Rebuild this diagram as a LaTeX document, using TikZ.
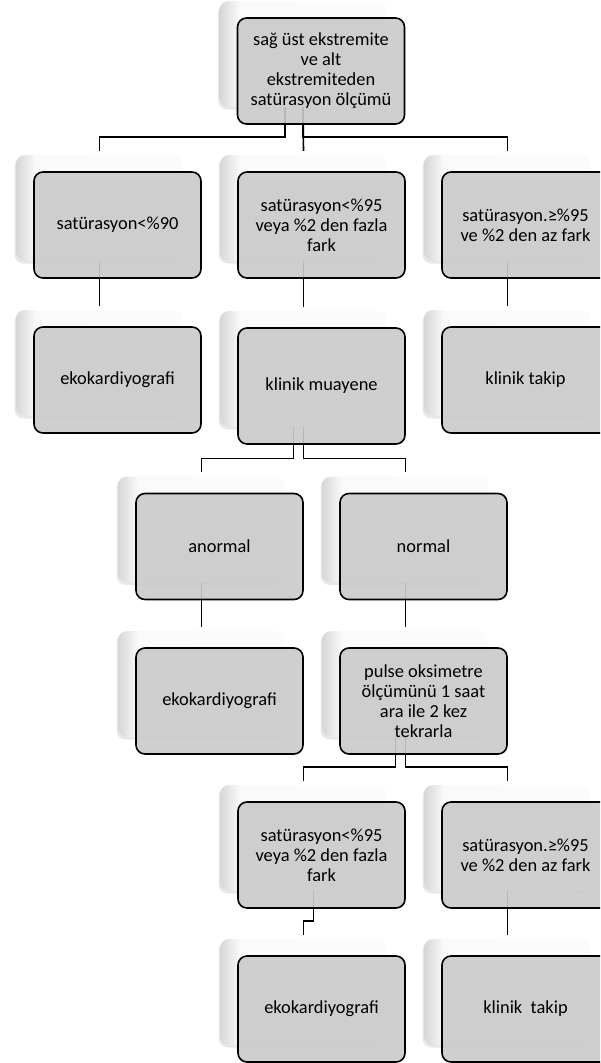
\documentclass[tikz,border=0pt]{standalone}
\usepackage{fontspec}
\setmainfont{Carlito}
\usetikzlibrary{shadows}

\definecolor{boxgray}{RGB}{202,202,202}
\pgfdeclarehorizontalshading{panelshade}{100bp}{color(0bp)=(gray!32); color(25bp)=(gray!32); color(31bp)=(gray!4); color(100bp)=(gray!2)}

\begin{document}
\begin{tikzpicture}[x=1pt, y=-1pt,
    panel/.style={rectangle, rounded corners=9pt, minimum width=167pt, minimum height=106pt,
        shading=panelshade, drop shadow={shadow xshift=-1.5pt, shadow yshift=-2.5pt, opacity=0.18}},
    stage/.style={rectangle, rounded corners=9pt, draw=black, line width=1.6pt, fill=boxgray,
        fill opacity=0.9, text opacity=1, minimum width=167pt, minimum height=106pt,
        inner sep=0pt, align=center, font=\fontsize{18.4}{20}\selectfont},
    link/.style={draw=black, line width=1.6pt}]

    % Page frame, the right column runs off the edge
    \useasboundingbox (0,0) rectangle (600,1063);
    \clip (0,0) rectangle (600,1063);

    % Back panels
    \node[panel] (b1) at (303,54) {};
    \node[panel] (b2) at (99.5,208) {};
    \node[panel] (b3) at (303.5,208) {};
    \node[panel] (b4) at (507.5,208) {};
    \node[panel] (b5) at (99.5,363) {};
    \node[panel, minimum height=116pt] (b6) at (303.5,369) {};
    \node[panel] (b7) at (507.5,363) {};
    \node[panel] (b8) at (201.5,529.5) {};
    \node[panel] (b9) at (405.5,529.5) {};
    \node[panel] (b10) at (201.5,684) {};
    \node[panel] (b11) at (405.5,684) {};
    \node[panel] (b12) at (303.5,838) {};
    \node[panel] (b13) at (507.5,838) {};
    \node[panel] (b14) at (303.5,992) {};
    \node[panel] (b15) at (507.5,992) {};

    % Connectors
    \draw[link] ([xshift=-18pt]b1.south) |- ([yshift=18pt]b2.north) -- ([yshift=4pt]b2.north);
    \draw[link] (b1.south) -- ([yshift=4pt]b3.north);
    \draw[link] (b1.south) |- ([yshift=18pt]b4.north) -- ([yshift=4pt]b4.north);
    \draw[link] (b2.south) -- ([yshift=4pt]b5.north);
    \draw[link] (b3.south) -- ([yshift=4pt]b6.north);
    \draw[link] (b4.south) -- ([yshift=4pt]b7.north);
    \draw[link] ([xshift=-10pt]b6.south) |- ([yshift=18pt]b8.north) -- ([yshift=4pt]b8.north);
    \draw[link] (b6.south) |- ([yshift=18pt]b9.north) -- ([yshift=4pt]b9.north);
    \draw[link] (b8.south) -- ([yshift=4pt]b10.north);
    \draw[link] (b9.south) -- ([yshift=4pt]b11.north);
    \draw[link] ([xshift=-10pt]b11.south) |- ([yshift=18pt]b12.north) -- ([yshift=4pt]b12.north);
    \draw[link] (b11.south) |- ([yshift=18pt]b13.north) -- ([yshift=4pt]b13.north);
    \draw[link] ([xshift=10pt]b12.south) |- ([yshift=18pt]b14.north) -- ([yshift=4pt]b14.north);
    \draw[link] (b13.south) -- ([yshift=4pt]b15.north);

    % Front boxes
    \node[stage] (n1) at (321,71) {sağ üst ekstremite\\ve alt\\ekstremiteden\\satürasyon ölçümü};
    \node[stage] (n2) at (117.5,225) {satürasyon<\%90};
    \node[stage] (n3) at (321.5,225) {satürasyon<\%95\\veya \%2 den fazla\\fark};
    \node[stage] (n4) at (525.5,225) {satürasyon.≥\%95\\ve \%2 den az fark};
    \node[stage] (n5) at (117.5,380) {ekokardiyografi};
    \node[stage, minimum height=116pt] (n6) at (321.5,386) {klinik muayene};
    \node[stage] (n7) at (525.5,380) {klinik takip};
    \node[stage] (n8) at (219.5,546.5) {anormal};
    \node[stage] (n9) at (423.5,546.5) {normal};
    \node[stage] (n10) at (219.5,701) {ekokardiyografi};
    \node[stage] (n11) at (423.5,701) {pulse oksimetre\\ölçümünü 1 saat\\ara ile 2 kez\\tekrarla};
    \node[stage] (n12) at (321.5,855) {satürasyon<\%95\\veya \%2 den fazla\\fark};
    \node[stage] (n13) at (525.5,855) {satürasyon.≥\%95\\ve \%2 den az fark};
    \node[stage] (n14) at (321.5,1009) {ekokardiyografi};
    \node[stage] (n15) at (525.5,1009) {klinik\ \ takip};

\end{tikzpicture}
\end{document}
